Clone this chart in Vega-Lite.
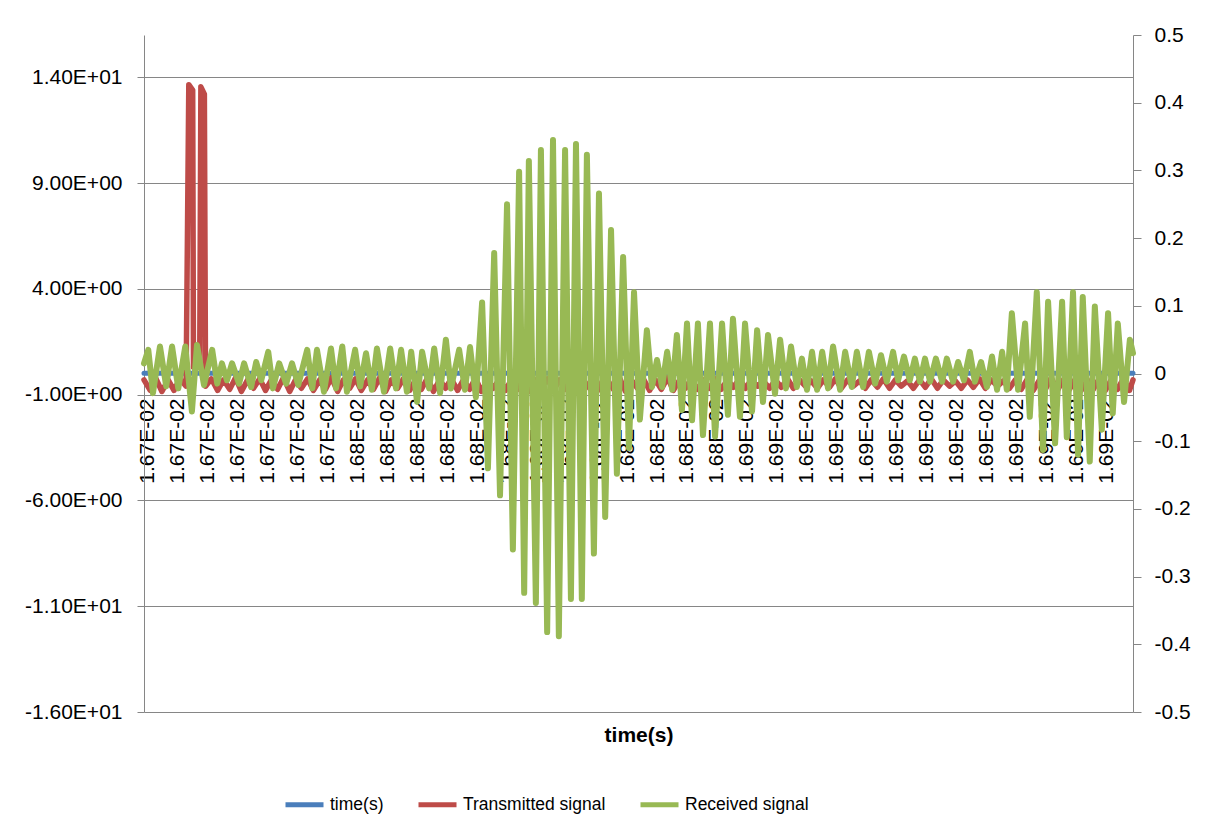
{
  "$schema": "https://vega.github.io/schema/vega-lite/v6.json",
  "width": 989,
  "height": 677,
  "autosize": {"type": "none"},
  "padding": {"left": 144, "top": 35, "right": 74, "bottom": 122},
  "background": "white",
  "config": {
    "view": {"stroke": null},
    "font": "Liberation Sans",
    "axis": {
      "labelFont": "Liberation Sans",
      "labelFontSize": 21,
      "labelColor": "#000000",
      "domainColor": "#868686",
      "tickColor": "#868686",
      "gridColor": "#868686",
      "titleFont": "Liberation Sans",
      "titleColor": "#000000"
    },
    "legend": {
      "orient": "none",
      "legendX": 139,
      "legendY": 748,
      "direction": "horizontal",
      "symbolType": "stroke",
      "symbolSize": 1444,
      "symbolStrokeWidth": 5,
      "labelFont": "Liberation Sans",
      "labelFontSize": 17.5,
      "labelColor": "#000000",
      "labelLimit": 0,
      "labelOffset": 4,
      "columnPadding": 24,
      "padding": 0
    }
  },
  "datasets": {
    "time": [
      {"t": 16699.2, "v": 0.0166992},
      {"t": 16776.7, "v": 0.0167767},
      {"t": 16876.1, "v": 0.0168761},
      {"t": 16953.1, "v": 0.0169531}
    ],
    "tx": [
      {"t": 16699.2, "v": -0.3}, {"t": 16700.8, "v": -0.8}, {"t": 16702.3, "v": -0.25}, {"t": 16703.8, "v": -0.85},
      {"t": 16705.4, "v": -0.3}, {"t": 16706.9, "v": -0.8}, {"t": 16708.4, "v": -0.25}, {"t": 16710.0, "v": -0.6},
      {"t": 16710.7, "v": 13.65}, {"t": 16711.7, "v": 13.4}, {"t": 16711.9, "v": 0.3}, {"t": 16713.5, "v": 0.3},
      {"t": 16713.8, "v": 13.55}, {"t": 16714.7, "v": 13.2}, {"t": 16715.0, "v": -0.6},
      {"t": 16716.5, "v": -0.25}, {"t": 16718.1, "v": -0.8}, {"t": 16719.6, "v": -0.3}, {"t": 16721.2, "v": -0.75},
      {"t": 16722.7, "v": -0.2}, {"t": 16724.2, "v": -0.85}, {"t": 16725.8, "v": -0.3}, {"t": 16727.3, "v": -0.7},
      {"t": 16728.9, "v": -0.25}, {"t": 16730.4, "v": -0.8}, {"t": 16731.9, "v": -0.3}, {"t": 16733.5, "v": -0.75},
      {"t": 16735.0, "v": -0.2}, {"t": 16736.6, "v": -0.85}, {"t": 16738.1, "v": -0.3}, {"t": 16739.6, "v": -0.7},
      {"t": 16741.2, "v": -0.25}, {"t": 16742.7, "v": -0.8}, {"t": 16744.3, "v": -0.3}, {"t": 16745.8, "v": -0.75},
      {"t": 16747.3, "v": -0.2}, {"t": 16748.9, "v": -0.85}, {"t": 16750.4, "v": -0.3}, {"t": 16752.0, "v": -0.7},
      {"t": 16753.5, "v": -0.25}, {"t": 16755.0, "v": -0.8}, {"t": 16756.6, "v": -0.3}, {"t": 16758.1, "v": -0.75},
      {"t": 16759.7, "v": -0.2}, {"t": 16761.2, "v": -0.85}, {"t": 16762.7, "v": -0.3}, {"t": 16764.3, "v": -0.7},
      {"t": 16765.8, "v": -0.25}, {"t": 16767.4, "v": -0.8}, {"t": 16768.9, "v": -0.3}, {"t": 16770.4, "v": -0.75},
      {"t": 16772.0, "v": -0.2}, {"t": 16773.5, "v": -0.85}, {"t": 16775.1, "v": -0.3}, {"t": 16776.6, "v": -0.7},
      {"t": 16778.1, "v": -0.25}, {"t": 16779.7, "v": -0.8}, {"t": 16781.2, "v": -0.3}, {"t": 16782.8, "v": -0.75},
      {"t": 16784.3, "v": -0.2}, {"t": 16785.8, "v": -0.85}, {"t": 16787.4, "v": -0.3}, {"t": 16788.9, "v": -0.7},
      {"t": 16790.5, "v": -0.25}, {"t": 16792.0, "v": -0.8}, {"t": 16793.5, "v": -0.3}, {"t": 16795.1, "v": -0.75},
      {"t": 16796.6, "v": -0.2}, {"t": 16798.2, "v": -0.85}, {"t": 16799.7, "v": -0.3}, {"t": 16801.2, "v": -0.7},
      {"t": 16802.8, "v": -0.25}, {"t": 16804.3, "v": -0.8}, {"t": 16805.9, "v": -0.3}, {"t": 16807.4, "v": -0.75},
      {"t": 16808.9, "v": -0.2}, {"t": 16810.5, "v": -0.85}, {"t": 16812.0, "v": -0.3}, {"t": 16813.6, "v": -0.7},
      {"t": 16815.1, "v": -0.25}, {"t": 16816.6, "v": -0.8}, {"t": 16818.2, "v": -0.3}, {"t": 16819.7, "v": -0.75},
      {"t": 16821.3, "v": -0.2}, {"t": 16822.8, "v": -0.85}, {"t": 16824.3, "v": -0.3}, {"t": 16825.9, "v": -0.7},
      {"t": 16827.4, "v": -0.25}, {"t": 16829.0, "v": -0.8}, {"t": 16830.5, "v": -0.3}, {"t": 16832.0, "v": -0.75},
      {"t": 16833.6, "v": -0.2}, {"t": 16835.1, "v": -0.8}, {"t": 16836.7, "v": -0.3}, {"t": 16838.2, "v": -0.7},
      {"t": 16839.7, "v": -0.25}, {"t": 16841.3, "v": -0.75}, {"t": 16842.8, "v": -0.3}, {"t": 16844.4, "v": -0.7},
      {"t": 16845.9, "v": -0.25}, {"t": 16847.4, "v": -0.75}, {"t": 16849.0, "v": -0.3}, {"t": 16850.5, "v": -0.65},
      {"t": 16852.1, "v": -0.25}, {"t": 16853.6, "v": -0.7}, {"t": 16855.1, "v": -0.3}, {"t": 16856.7, "v": -0.6},
      {"t": 16858.2, "v": -0.35}, {"t": 16859.8, "v": -0.7}, {"t": 16861.3, "v": -0.3}, {"t": 16862.8, "v": -0.65},
      {"t": 16864.4, "v": -0.25}, {"t": 16865.9, "v": -0.7}, {"t": 16867.5, "v": -0.3}, {"t": 16869.0, "v": -0.6},
      {"t": 16870.5, "v": -0.35}, {"t": 16872.1, "v": -0.7}, {"t": 16873.6, "v": -0.3}, {"t": 16875.2, "v": -0.65},
      {"t": 16876.7, "v": -0.25}, {"t": 16878.2, "v": -0.7}, {"t": 16879.8, "v": -0.3}, {"t": 16881.3, "v": -0.6},
      {"t": 16882.9, "v": -0.35}, {"t": 16884.4, "v": -0.7}, {"t": 16885.9, "v": -0.3}, {"t": 16887.5, "v": -0.65},
      {"t": 16889.0, "v": -0.25}, {"t": 16890.6, "v": -0.7}, {"t": 16892.1, "v": -0.3}, {"t": 16893.6, "v": -0.6},
      {"t": 16895.2, "v": -0.35}, {"t": 16896.7, "v": -0.7}, {"t": 16898.3, "v": -0.3}, {"t": 16899.8, "v": -0.65},
      {"t": 16901.3, "v": -0.25}, {"t": 16902.9, "v": -0.7}, {"t": 16904.4, "v": -0.3}, {"t": 16906.0, "v": -0.6},
      {"t": 16907.5, "v": -0.35}, {"t": 16909.0, "v": -0.7}, {"t": 16910.6, "v": -0.3}, {"t": 16912.1, "v": -0.65},
      {"t": 16913.7, "v": -0.25}, {"t": 16915.2, "v": -0.7}, {"t": 16916.7, "v": -0.3}, {"t": 16918.3, "v": -0.6},
      {"t": 16919.8, "v": -0.35}, {"t": 16921.4, "v": -0.7}, {"t": 16922.9, "v": -0.3}, {"t": 16924.4, "v": -0.75},
      {"t": 16926.0, "v": -0.25}, {"t": 16927.5, "v": -0.8}, {"t": 16929.1, "v": -0.3}, {"t": 16930.6, "v": -0.75},
      {"t": 16932.1, "v": -0.2}, {"t": 16933.7, "v": -0.8}, {"t": 16935.2, "v": -0.3}, {"t": 16936.8, "v": -0.75},
      {"t": 16938.3, "v": -0.25}, {"t": 16939.8, "v": -0.8}, {"t": 16941.4, "v": -0.3}, {"t": 16942.9, "v": -0.75},
      {"t": 16944.5, "v": -0.2}, {"t": 16946.0, "v": -0.8}, {"t": 16947.5, "v": -0.3}, {"t": 16949.1, "v": -0.75},
      {"t": 16950.6, "v": -0.25}, {"t": 16952.2, "v": -0.8}, {"t": 16953.1, "v": -0.3}
    ],
    "rx": [
      {"t": 16699.2, "v": 0.015}, {"t": 16700.3, "v": 0.035}, {"t": 16701.5, "v": -0.029}, {"t": 16703.3, "v": 0.04},
      {"t": 16704.9, "v": -0.019}, {"t": 16706.4, "v": 0.04}, {"t": 16708.0, "v": -0.022}, {"t": 16709.8, "v": 0.04},
      {"t": 16711.5, "v": -0.056}, {"t": 16712.8, "v": 0.042}, {"t": 16714.6, "v": -0.017}, {"t": 16716.7, "v": 0.035},
      {"t": 16718.0, "v": -0.015}, {"t": 16719.2, "v": 0.015}, {"t": 16720.5, "v": -0.01}, {"t": 16721.8, "v": 0.015},
      {"t": 16723.6, "v": -0.015}, {"t": 16724.9, "v": 0.015}, {"t": 16726.7, "v": -0.02}, {"t": 16728.0, "v": 0.017},
      {"t": 16729.3, "v": -0.01}, {"t": 16731.1, "v": 0.032}, {"t": 16732.3, "v": -0.022}, {"t": 16733.9, "v": 0.015},
      {"t": 16735.7, "v": -0.015}, {"t": 16737.2, "v": 0.015}, {"t": 16738.8, "v": -0.017}, {"t": 16741.1, "v": 0.035},
      {"t": 16742.4, "v": -0.022}, {"t": 16743.6, "v": 0.035}, {"t": 16745.4, "v": -0.027}, {"t": 16747.2, "v": 0.037},
      {"t": 16748.5, "v": -0.022}, {"t": 16750.1, "v": 0.04}, {"t": 16751.3, "v": -0.027}, {"t": 16753.4, "v": 0.035},
      {"t": 16754.7, "v": -0.019}, {"t": 16756.2, "v": 0.03}, {"t": 16757.7, "v": -0.024}, {"t": 16759.0, "v": 0.037},
      {"t": 16760.8, "v": -0.027}, {"t": 16762.4, "v": 0.037}, {"t": 16763.9, "v": -0.022}, {"t": 16765.2, "v": 0.035},
      {"t": 16766.7, "v": -0.027}, {"t": 16767.8, "v": 0.032}, {"t": 16769.3, "v": -0.042}, {"t": 16770.6, "v": 0.032},
      {"t": 16772.4, "v": -0.022}, {"t": 16773.7, "v": 0.037}, {"t": 16775.2, "v": -0.029}, {"t": 16776.7, "v": 0.05},
      {"t": 16778.0, "v": -0.022}, {"t": 16780.1, "v": 0.035}, {"t": 16781.6, "v": -0.024}, {"t": 16782.9, "v": 0.039},
      {"t": 16784.4, "v": -0.035}, {"t": 16786.0, "v": 0.105}, {"t": 16787.5, "v": -0.14}, {"t": 16789.1, "v": 0.178},
      {"t": 16790.6, "v": -0.18}, {"t": 16792.4, "v": 0.25}, {"t": 16793.9, "v": -0.26}, {"t": 16795.5, "v": 0.298},
      {"t": 16796.8, "v": -0.324}, {"t": 16798.0, "v": 0.314}, {"t": 16799.8, "v": -0.339}, {"t": 16801.1, "v": 0.33},
      {"t": 16802.7, "v": -0.382}, {"t": 16804.2, "v": 0.345}, {"t": 16805.7, "v": -0.388}, {"t": 16807.3, "v": 0.33},
      {"t": 16808.8, "v": -0.333}, {"t": 16810.1, "v": 0.339}, {"t": 16811.6, "v": -0.333}, {"t": 16812.9, "v": 0.323},
      {"t": 16814.7, "v": -0.266}, {"t": 16816.0, "v": 0.266}, {"t": 16817.6, "v": -0.212}, {"t": 16819.1, "v": 0.212},
      {"t": 16820.6, "v": -0.148}, {"t": 16822.2, "v": 0.172}, {"t": 16823.7, "v": -0.11}, {"t": 16825.0, "v": 0.12},
      {"t": 16826.5, "v": -0.068}, {"t": 16828.3, "v": 0.064}, {"t": 16829.6, "v": -0.02}, {"t": 16830.9, "v": 0.02},
      {"t": 16832.2, "v": -0.02}, {"t": 16833.5, "v": 0.032}, {"t": 16834.8, "v": -0.024}, {"t": 16836.0, "v": 0.057},
      {"t": 16837.3, "v": -0.054}, {"t": 16838.6, "v": 0.074}, {"t": 16839.9, "v": -0.069}, {"t": 16841.4, "v": 0.074},
      {"t": 16842.7, "v": -0.091}, {"t": 16844.5, "v": 0.074}, {"t": 16845.8, "v": -0.093}, {"t": 16847.6, "v": 0.074},
      {"t": 16849.1, "v": -0.061}, {"t": 16850.4, "v": 0.081}, {"t": 16852.2, "v": -0.064}, {"t": 16853.5, "v": 0.074},
      {"t": 16855.3, "v": -0.056}, {"t": 16856.6, "v": 0.064}, {"t": 16858.1, "v": -0.042}, {"t": 16859.4, "v": 0.057},
      {"t": 16861.2, "v": -0.03}, {"t": 16862.5, "v": 0.05}, {"t": 16864.0, "v": -0.022}, {"t": 16865.3, "v": 0.04},
      {"t": 16866.8, "v": -0.02}, {"t": 16868.1, "v": 0.022}, {"t": 16869.4, "v": -0.024}, {"t": 16870.7, "v": 0.032},
      {"t": 16872.0, "v": -0.024}, {"t": 16873.3, "v": 0.032}, {"t": 16874.8, "v": -0.022}, {"t": 16876.1, "v": 0.04},
      {"t": 16877.9, "v": -0.024}, {"t": 16879.2, "v": 0.032}, {"t": 16880.9, "v": -0.02}, {"t": 16882.2, "v": 0.032},
      {"t": 16883.8, "v": -0.02}, {"t": 16885.3, "v": 0.032}, {"t": 16886.9, "v": -0.015}, {"t": 16888.4, "v": 0.027},
      {"t": 16889.9, "v": -0.012}, {"t": 16891.5, "v": 0.032}, {"t": 16892.8, "v": -0.01}, {"t": 16894.3, "v": 0.025},
      {"t": 16895.8, "v": -0.01}, {"t": 16897.1, "v": 0.022}, {"t": 16898.4, "v": -0.012}, {"t": 16899.7, "v": 0.022},
      {"t": 16901.0, "v": -0.012}, {"t": 16902.5, "v": 0.022}, {"t": 16904.1, "v": -0.012}, {"t": 16905.3, "v": 0.022},
      {"t": 16906.9, "v": -0.012}, {"t": 16908.2, "v": 0.017}, {"t": 16909.7, "v": -0.01}, {"t": 16911.2, "v": 0.032},
      {"t": 16912.5, "v": -0.012}, {"t": 16914.1, "v": 0.017}, {"t": 16915.6, "v": -0.02}, {"t": 16916.9, "v": 0.025},
      {"t": 16918.2, "v": -0.024}, {"t": 16919.5, "v": 0.032}, {"t": 16920.7, "v": -0.024}, {"t": 16922.0, "v": 0.089},
      {"t": 16923.6, "v": -0.024}, {"t": 16925.4, "v": 0.074}, {"t": 16926.6, "v": -0.064}, {"t": 16928.4, "v": 0.12},
      {"t": 16930.0, "v": -0.113}, {"t": 16931.3, "v": 0.106}, {"t": 16933.1, "v": -0.103}, {"t": 16934.9, "v": 0.106},
      {"t": 16936.1, "v": -0.094}, {"t": 16937.7, "v": 0.12}, {"t": 16939.0, "v": -0.12}, {"t": 16940.2, "v": 0.113},
      {"t": 16942.0, "v": -0.13}, {"t": 16943.3, "v": 0.099}, {"t": 16945.1, "v": -0.083}, {"t": 16946.7, "v": 0.089},
      {"t": 16947.9, "v": -0.059}, {"t": 16949.2, "v": 0.074}, {"t": 16950.8, "v": -0.042}, {"t": 16952.3, "v": 0.05},
      {"t": 16953.1, "v": 0.03}
    ]
  },
  "encoding": {
    "x": {
      "field": "t",
      "type": "quantitative",
      "scale": {"domain": [16699.2, 16953.1], "nice": false, "zero": false},
      "axis": {
        "orient": "bottom",
        "offset": -317,
        "values": [16700, 16707.7, 16715.4, 16723.1, 16730.8, 16738.5, 16746.2, 16753.9, 16761.6, 16769.3, 16777, 16784.7, 16792.4, 16800.1, 16807.8, 16815.5, 16823.2, 16830.9, 16838.6, 16846.3, 16854, 16861.7, 16869.4, 16877.1, 16884.8, 16892.5, 16900.2, 16907.9, 16915.6, 16923.3, 16931, 16938.7, 16946.4],
        "labelExpr": "replace(upper(format(datum.value / 1000000, '.2e')), 'E-', 'E-0')",
        "labelAngle": 270,
        "labelAlign": "right",
        "labelBaseline": "middle",
        "labelPadding": 3,
        "labelOverlap": false,
        "labelFlush": false,
        "ticks": false,
        "grid": false,
        "title": "time(s)",
        "titleFontWeight": "bold",
        "titleFontSize": 21,
        "titleBaseline": "middle",
        "titleY": 340
      }
    }
  },
  "layer": [
    {
      "encoding": {
        "y": {
          "field": "v",
          "type": "quantitative",
          "scale": {"domain": [-16, 16], "nice": false, "zero": false},
          "axis": {
            "orient": "left",
            "values": [-16, -11, -6, -1, 4, 9, 14],
            "labelExpr": "datum.value == 14 ? '1.40E+01' : datum.value == 9 ? '9.00E+00' : datum.value == 4 ? '4.00E+00' : datum.value == -1 ? '-1.00E+00' : datum.value == -6 ? '-6.00E+00' : datum.value == -11 ? '-1.10E+01' : '-1.60E+01'",
            "grid": true,
            "tickSize": 7,
            "labelPadding": 15,
            "labelBaseline": "middle",
            "title": null
          }
        }
      },
      "layer": [
        {
          "data": {"name": "time"},
          "mark": {"type": "line", "strokeWidth": 5, "strokeJoin": "round", "strokeCap": "round"},
          "encoding": {
            "color": {
              "datum": "time(s)",
              "type": "nominal",
              "title": null,
              "scale": {"domain": ["time(s)", "Transmitted signal", "Received signal"], "range": ["#4A7EBB", "#BE4B48", "#98B954"]}
            }
          }
        },
        {
          "data": {"name": "tx"},
          "mark": {"type": "line", "strokeWidth": 5.5, "strokeJoin": "round", "strokeCap": "round"},
          "encoding": {
            "color": {
              "datum": "Transmitted signal",
              "type": "nominal",
              "title": null,
              "scale": {"domain": ["time(s)", "Transmitted signal", "Received signal"], "range": ["#4A7EBB", "#BE4B48", "#98B954"]}
            }
          }
        }
      ]
    },
    {
      "data": {"name": "rx"},
      "mark": {"type": "line", "strokeWidth": 6, "strokeJoin": "round", "strokeCap": "round"},
      "encoding": {
        "y": {
          "field": "v",
          "type": "quantitative",
          "scale": {"domain": [-0.5, 0.5], "nice": false, "zero": false},
          "axis": {
            "orient": "right",
            "values": [-0.5, -0.4, -0.3, -0.2, -0.1, 0, 0.1, 0.2, 0.3, 0.4, 0.5],
            "labelExpr": "replace(format(datum.value, '.1~f'), '−', '-')",
            "grid": false,
            "tickSize": 8,
            "labelPadding": 13,
            "labelBaseline": "middle",
            "title": null
          }
        },
        "color": {
          "datum": "Received signal",
          "type": "nominal",
          "title": null,
          "scale": {"domain": ["time(s)", "Transmitted signal", "Received signal"], "range": ["#4A7EBB", "#BE4B48", "#98B954"]}
        }
      }
    }
  ],
  "resolve": {"scale": {"y": "independent"}}
}
